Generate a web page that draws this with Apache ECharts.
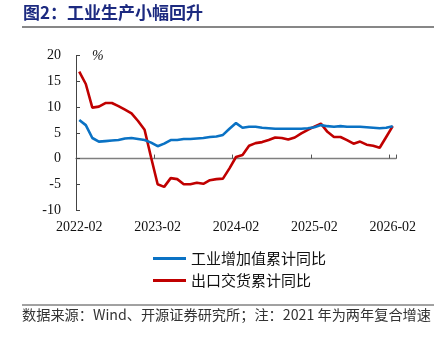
<!DOCTYPE html>
<html><head><meta charset="utf-8">
<script src="https://cdn.jsdelivr.net/npm/echarts@6/dist/echarts.min.js"></script>
<style>html,body{margin:0;padding:0;background:#fff}#c{width:444px;height:337px}</style>
</head><body><div id="c"></div>
<script>
const categories = [
 '2022-02','2022-03','2022-04','2022-05','2022-06','2022-07','2022-08','2022-09','2022-10','2022-11','2022-12','2023-01',
 '2023-02','2023-03','2023-04','2023-05','2023-06','2023-07','2023-08','2023-09','2023-10','2023-11','2023-12','2024-01',
 '2024-02','2024-03','2024-04','2024-05','2024-06','2024-07','2024-08','2024-09','2024-10','2024-11','2024-12','2025-01',
 '2025-02','2025-03','2025-04','2025-05','2025-06','2025-07','2025-08','2025-09','2025-10','2025-11','2025-12','2026-01',
 '2026-02'
];
const industryName = '工业增加值累计同比';
const exportName = '出口交货累计同比';
const industry = [7.5,6.5,4.0,3.3,3.4,3.5,3.6,3.9,4.0,3.8,3.6,3.1,
 2.4,2.9,3.6,3.6,3.8,3.8,3.9,4.0,4.2,4.3,4.6,5.8,
 6.9,6.0,6.2,6.2,6.0,5.9,5.8,5.8,5.8,5.8,5.8,5.9,
 6.1,6.5,6.3,6.2,6.3,6.2,6.2,6.2,6.1,6.0,5.9,6.0,
 6.3];
const exportDelivery = [16.9,14.5,9.9,10.1,10.8,10.8,10.2,9.5,8.8,7.3,5.6,0.2,
 -5.0,-5.5,-3.8,-4.0,-5.0,-5.0,-4.7,-4.9,-4.2,-4.0,-3.9,-1.9,
 0.3,0.7,2.5,3.0,3.2,3.6,4.1,4.0,3.7,4.1,4.9,5.6,
 6.2,6.8,5.2,4.2,4.2,3.6,2.9,3.3,2.7,2.5,2.1,4.2,
 6.3];
const yTicks = {min:-10, max:20, interval:5};
const titleText = '图2：工业生产小幅回升';
const sourceText = '数据来源：Wind、开源证券研究所；注：2021 年为两年复合增速';

const serif = '"Liberation Serif","Times New Roman",serif';
const cjk = '"Noto Sans CJK SC",sans-serif';
const chart = echarts.init(document.getElementById('c'), null, {renderer:'canvas'});
chart.setOption({
  animation:false,
  backgroundColor:'#fff',
  grid:{left:76, right:48, top:55.7, bottom:127, containLabel:false},
  legend:{
    orient:'vertical', left:148, top:246, icon:'rect', itemWidth:33, itemHeight:3, itemGap:7,
    textStyle:{fontFamily:cjk, fontSize:15, color:'#111'},
    data:[industryName, exportName]
  },
  xAxis:[
    {type:'category', data:categories, boundaryGap:true, position:'bottom',
     axisLine:{show:true, onZero:true, lineStyle:{color:'#7f7f7f', width:1.3}},
     axisTick:{show:true, inside:true, length:4, interval:11, lineStyle:{color:'#555', width:1}},
     axisLabel:{show:false}, splitLine:{show:false}},
    {type:'category', data:categories, boundaryGap:true, position:'bottom',
     axisLine:{show:false, onZero:false}, axisTick:{show:false},
     axisLabel:{show:true, interval:11, margin:10, fontFamily:serif, fontSize:14, color:'#111'},
     splitLine:{show:false}}
  ],
  yAxis:{type:'value', min:yTicks.min, max:yTicks.max, interval:yTicks.interval,
    axisLine:{show:true, lineStyle:{color:'#444', width:1}},
    axisTick:{show:true, inside:true, length:4, lineStyle:{color:'#444'}},
    axisLabel:{margin:15, fontFamily:serif, fontSize:14, color:'#111'},
    splitLine:{show:false}},
  series:[
    {name:industryName, type:'line', data:industry, symbol:'none', color:'#0a72c4',
     lineStyle:{width:2.6, color:'#0a72c4'}, z:3},
    {name:exportName, type:'line', data:exportDelivery, symbol:'none', color:'#c00000',
     lineStyle:{width:2.6, color:'#c00000'}, z:2}
  ],
  graphic:[
    {type:'text', left:23, top:4, style:{text:titleText, font:'bold 17px '+cjk, fill:'#1c2a80'}},
    {type:'line', shape:{x1:22, y1:27, x2:434, y2:27}, style:{stroke:'#111', lineWidth:1.2}},
    {type:'text', left:92, top:49, style:{text:'%', font:'italic 14px '+serif, fill:'#111'}},
    {type:'line', shape:{x1:22, y1:305, x2:434, y2:305}, style:{stroke:'#444', lineWidth:1}},
    {type:'text', left:22, top:308, style:{text:sourceText, font:'14.2px '+cjk, fill:'#333'}}
  ]
});
</script></body></html>
